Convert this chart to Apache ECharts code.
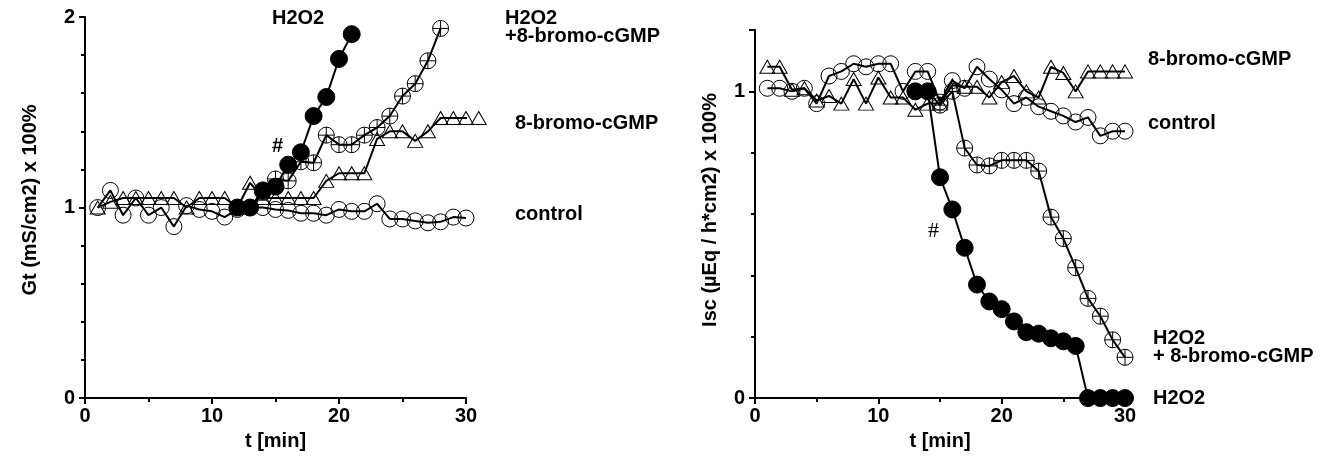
<!DOCTYPE html>
<html>
<head>
<meta charset="utf-8">
<script src="https://cdn.jsdelivr.net/npm/echarts@6/dist/echarts.min.js"></script>
<style>
  html, body { margin: 0; padding: 0; background: #fff; }
  #chart { width: 1339px; height: 456px; }
</style>
</head>
<body>
<div id="chart"></div>
<script>
// left panel: Gt, t = 1..30 (8-bromo runs to 31)
var gtTime = [1,2,3,4,5,6,7,8,9,10,11,12,13,14,15,16,17,18,19,20,21,22,23,24,25,26,27,28,29,30];
var gtControl = [1.0,1.09,0.96,1.05,0.96,1.0,0.9,1.01,0.99,0.98,0.95,0.99,1.0,1.0,0.99,0.985,0.97,0.97,0.96,0.99,0.98,0.98,1.02,0.94,0.94,0.93,0.92,0.925,0.95,0.945];
var gtBromoTime = [1,2,3,4,5,6,7,8,9,10,11,12,13,14,15,16,17,18,19,20,21,22,23,24,25,26,27,28,29,30,31];
var gtBromo = [1.0,1.03,1.05,1.05,1.05,1.05,1.05,1.0,1.05,1.05,1.05,1.0,1.13,1.05,1.05,1.05,1.05,1.05,1.14,1.18,1.18,1.18,1.36,1.4,1.4,1.35,1.4,1.47,1.47,1.47,1.47];
var gtH2O2Time = [12,13,14,15,16,17,18,19,20,21];
var gtH2O2 = [1.0,1.0,1.09,1.11,1.225,1.29,1.48,1.58,1.78,1.91];
var gtMixTime = [12,13,14,15,16,17,18,19,20,21,22,23,24,25,26,27,28];
var gtMix = [1.0,1.0,1.08,1.15,1.14,1.24,1.235,1.38,1.33,1.33,1.38,1.42,1.48,1.585,1.65,1.77,1.94];

// right panel: Isc
var iscTime = gtTime;
var iscControl = [1.01,1.01,1.0,1.01,0.96,1.05,1.065,1.09,1.08,1.09,1.09,1.0,1.065,1.065,0.965,1.035,1.01,1.08,1.04,1.005,0.96,0.98,0.95,0.935,0.92,0.9,0.915,0.855,0.87,0.87];
var iscBromo = [1.08,1.08,1.005,1.01,0.97,0.985,0.96,1.04,0.96,1.045,0.98,0.98,0.94,0.96,0.96,1.02,1.015,1.015,0.98,1.03,1.05,1.0,0.98,1.08,1.06,1.0,1.065,1.065,1.065,1.065];
var iscH2O2Time = [13,14,15,16,17,18,19,20,21,22,23,24,25,26,27,28,29,30];
var iscH2O2 = [1.0,1.0,0.72,0.615,0.49,0.37,0.315,0.29,0.25,0.215,0.21,0.195,0.185,0.17,0,0,0,0];
var iscMix = [1.0,1.0,0.955,1.0,0.815,0.76,0.757,0.775,0.775,0.775,0.74,0.59,0.52,0.425,0.325,0.267,0.19,0.133];

var xTicks = [0, 10, 20, 30];

function pairs(xs, ys) {
  return ys.map(function (v, i) { return [xs[i], v]; });
}

var FONT = "Liberation Sans, Arial, sans-serif";
var crossCircle = "path://M0,-10A10,10 0 1,1 0,10A10,10 0 1,1 0,-10ZM-10,0L10,0M0,-10L0,10";

function xAxisCfg(gridIndex) {
  return {
    gridIndex: gridIndex,
    type: "value",
    min: xTicks[0],
    max: xTicks[xTicks.length - 1],
    interval: 10,
    name: "t [min]",
    nameLocation: "middle",
    nameGap: 30,
    nameTextStyle: { color: "#000", fontWeight: "bold", fontSize: 20, fontFamily: FONT },
    axisLine: { onZero: false, lineStyle: { color: "#000", width: 2 } },
    axisTick: { length: 6, lineStyle: { color: "#000", width: 2 } },
    minorTick: { show: true, splitNumber: 2, length: 4, lineStyle: { color: "#000", width: 2 } },
    splitLine: { show: false },
    axisLabel: { margin: 8, color: "#000", fontWeight: "bold", fontSize: 20, fontFamily: FONT },
  };
}

function yAxisCfg(gridIndex, max) {
  return {
    gridIndex: gridIndex,
    type: "value",
    min: 0,
    max: max,
    interval: 1,
    axisLine: { show: true, lineStyle: { color: "#000", width: 2 } },
    axisTick: { show: true, length: 6, lineStyle: { color: "#000", width: 2 } },
    minorTick: { show: true, splitNumber: 5, length: 4, lineStyle: { color: "#000", width: 2 } },
    splitLine: { show: false },
    axisLabel: {
      margin: 10,
      color: "#000",
      fontWeight: "bold",
      fontSize: 20,
      fontFamily: FONT,
      showMaxLabel: max === 2,
    },
  };
}

function lineSeries(idx, data, symbol, size, fill, z) {
  return {
    type: "line",
    xAxisIndex: idx,
    yAxisIndex: idx,
    data: data,
    symbol: symbol,
    symbolSize: size,
    showAllSymbol: true,
    clip: false,
    z: z,
    lineStyle: { color: "#000", width: 2 },
    itemStyle: { color: fill, borderColor: "#000", borderWidth: 1 },
    emphasis: { disabled: true },
  };
}

var chart = echarts.init(document.getElementById("chart"));

chart.setOption({
  animation: false,
  grid: [
    { left: 85, top: 17, width: 381, height: 384 },
    { left: 755, top: 30, width: 370, height: 372 },
  ],
  xAxis: [xAxisCfg(0), xAxisCfg(1)],
  yAxis: [yAxisCfg(0, 2), yAxisCfg(1, 1.2)],
  series: [
    lineSeries(0, pairs(gtTime, gtControl), "circle", 16, "transparent", 2),
    lineSeries(0, pairs(gtBromoTime, gtBromo), "triangle", [15, 13], "transparent", 3),
    lineSeries(0, pairs(gtMixTime, gtMix), crossCircle, 16, "transparent", 4),
    lineSeries(0, pairs(gtH2O2Time, gtH2O2), "circle", 17, "#000", 5),
    lineSeries(1, pairs(iscTime, iscControl), "circle", 16, "transparent", 2),
    lineSeries(1, pairs(iscTime, iscBromo), "triangle", [15, 13], "transparent", 3),
    lineSeries(1, pairs(iscH2O2Time, iscMix), crossCircle, 16, "transparent", 4),
    lineSeries(1, pairs(iscH2O2Time, iscH2O2), "circle", 17, "#000", 5),
  ],
  graphic: [
    { type: "text", x: 30, y: 200, rotation: Math.PI / 2,
      style: { text: "Gt (mS/cm2) x 100%", font: "bold 20px " + FONT, fill: "#000", align: "center", verticalAlign: "middle" } },
    { type: "text", x: 710, y: 210, rotation: Math.PI / 2,
      style: { text: "Isc (\u00b5Eq / h*cm2) x 100%", font: "bold 20px " + FONT, fill: "#000", align: "center", verticalAlign: "middle" } },

    { type: "text", left: 272, top: 8, style: { text: "H2O2", font: "bold 20px " + FONT, fill: "#000" } },
    { type: "text", left: 505, top: 8, style: { text: "H2O2\n+8-bromo-cGMP", font: "bold 20px " + FONT, lineHeight: 18, fill: "#000" } },
    { type: "text", left: 515, top: 113, style: { text: "8-bromo-cGMP", font: "bold 20px " + FONT, fill: "#000" } },
    { type: "text", left: 515, top: 204, style: { text: "control", font: "bold 20px " + FONT, fill: "#000" } },
    { type: "text", left: 272, top: 136, style: { text: "#", font: "bold 20px " + FONT, fill: "#000" } },

    { type: "text", left: 1148, top: 49, style: { text: "8-bromo-cGMP", font: "bold 20px " + FONT, fill: "#000" } },
    { type: "text", left: 1148, top: 113, style: { text: "control", font: "bold 20px " + FONT, fill: "#000" } },
    { type: "text", left: 1153, top: 328, style: { text: "H2O2\n+ 8-bromo-cGMP", font: "bold 20px " + FONT, lineHeight: 18, fill: "#000" } },
    { type: "text", left: 1153, top: 388, style: { text: "H2O2", font: "bold 20px " + FONT, fill: "#000" } },
    { type: "text", left: 928, top: 220, style: { text: "#", font: "22px Liberation Serif, serif", fill: "#000" } },
  ],
});
</script>
</body>
</html>
